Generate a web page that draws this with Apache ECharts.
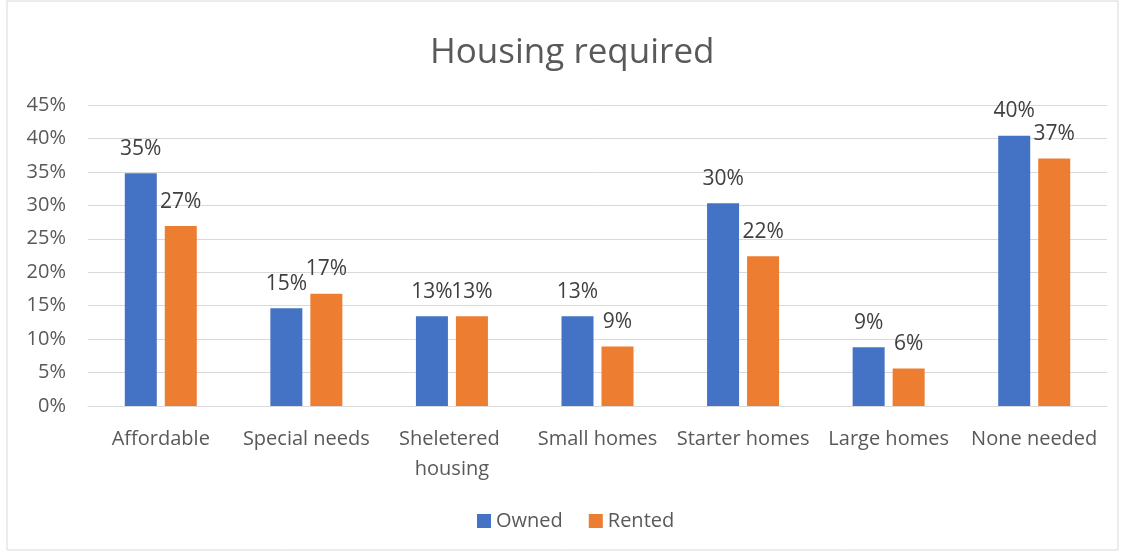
<!DOCTYPE html>
<html>
<head>
<meta charset="utf-8">
<script src="https://cdn.jsdelivr.net/npm/echarts@6/dist/echarts.min.js"></script>
<style>
  html, body { margin: 0; padding: 0; background: #fff; }
  #main { width: 1125px; height: 552px; }
</style>
</head>
<body>
<div id="main"></div>
<script>
// categories and values (percent)
var categories = ['Affordable', 'Special needs', 'Sheletered housing', 'Small homes', 'Starter homes', 'Large homes', 'None needed'];
var owned = [34.8, 14.6, 13.4, 13.4, 30.3, 8.8, 40.4];
var rented = [26.9, 16.8, 13.4, 8.9, 22.4, 5.6, 37.0];
var yTicks = [0, 5, 10, 15, 20, 25, 30, 35, 40, 45];

var font = 'Open Sans';
var textColor = '#595959';

var myChart = echarts.init(document.getElementById('main'));
var option = {
	animation: false,
	color: ['#4472C4', '#ED7D31'],
	title: {
		text: 'Housing required',
		left: 425,
		top: 31,
		textStyle: {
			fontFamily: font,
			fontSize: 35,
			fontWeight: 'normal',
			color: textColor
		}
	},
	graphic: [{
		type: 'rect',
		shape: { x: 7, y: 1, width: 1111, height: 549 },
		style: { fill: 'none', stroke: '#d9d9d9', lineWidth: 1 },
		silent: true
	}],
	legend: {
		bottom: 16,
		left: 472,
		itemWidth: 14,
		itemHeight: 14,
		itemGap: 26,
		icon: 'rect',
		textStyle: { fontFamily: font, fontSize: 20, color: textColor },
		data: ['Owned', 'Rented']
	},
	grid: {
		left: 88,
		right: 18,
		top: 105,
		bottom: 146
	},
	xAxis: {
		type: 'category',
		data: categories,
		axisTick: { show: false },
		axisLine: { lineStyle: { color: '#d9d9d9' } },
		axisLabel: {
			fontFamily: font,
			fontSize: 20,
			color: textColor,
			margin: 18,
			lineHeight: 30,
			width: 145,
			overflow: 'break',
			interval: 0
		}
	},
	yAxis: {
		type: 'value',
		min: yTicks[0],
		max: yTicks[yTicks.length - 1],
		interval: 5,
		axisLine: { show: false },
		axisTick: { show: false },
		splitLine: { lineStyle: { color: '#d9d9d9' } },
		axisLabel: {
			fontFamily: font,
			fontSize: 20,
			color: textColor,
			margin: 22,
			formatter: '{value}%'
		}
	},
	series: [{
		name: 'Owned',
		type: 'bar',
		barWidth: 32,
		barGap: '25%',
		data: owned,
		label: {
			show: true,
			position: 'top',
			distance: 14,
			fontFamily: font,
			fontSize: 21,
			color: '#404040',
			formatter: function (p) { return Math.round(p.value) + '%'; }
		}
	}, {
		name: 'Rented',
		type: 'bar',
		barWidth: 32,
		data: rented,
		label: {
			show: true,
			position: 'top',
			distance: 14,
			fontFamily: font,
			fontSize: 21,
			color: '#404040',
			formatter: function (p) { return Math.round(p.value) + '%'; }
		}
	}]
};
myChart.setOption(option);
</script>
</body>
</html>
